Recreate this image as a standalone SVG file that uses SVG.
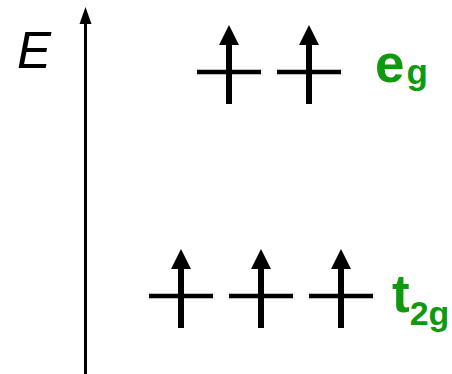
<svg xmlns="http://www.w3.org/2000/svg" xmlns:xlink="http://www.w3.org/1999/xlink" width="452" height="374" viewBox="0 0 452 374">
  <style>
    .lvl { stroke: #000; stroke-width: 4.5; fill: none; }
    .shaft { stroke: #000; stroke-width: 6; fill: none; }
    .head { fill: #000; stroke: none; }
    .axis { stroke: #000; stroke-width: 3; fill: none; }
    .lbl { font-family: "Liberation Sans", Arial, sans-serif; font-weight: bold; fill: #0f990f; }
    .elbl { font-family: "Liberation Sans", Arial, sans-serif; font-style: italic; fill: #000; }
  </style>
  <defs>
    <g id="orb">
      <line class="lvl" x1="-32" y1="0" x2="32" y2="0"/>
      <line class="shaft" x1="0" y1="-30" x2="0" y2="32"/>
      <polygon class="head" points="0,-47 10,-27 -10,-27"/>
    </g>
  </defs>
  <g id="axis">
    <line class="axis" x1="85.5" y1="22" x2="85.5" y2="374"/>
    <polygon class="head" points="85.5,7 91.5,24 79.5,24"/>
  </g>
  <g id="E-label">
    <text class="elbl" x="17" y="68" font-size="51">E</text>
  </g>
  <g id="eg">
    <use xlink:href="#orb" x="229" y="72"/>
    <use xlink:href="#orb" x="309" y="72"/>
    <text class="lbl" x="375" y="82" font-size="53">e<tspan font-size="35" dx="2" dy="2">g</tspan></text>
  </g>
  <g id="t2g">
    <use xlink:href="#orb" x="181" y="296"/>
    <use xlink:href="#orb" x="261" y="296"/>
    <use xlink:href="#orb" x="341" y="296"/>
    <text class="lbl" x="392" y="312" font-size="53">t<tspan font-size="34" dy="13">2g</tspan></text>
  </g>
</svg>
